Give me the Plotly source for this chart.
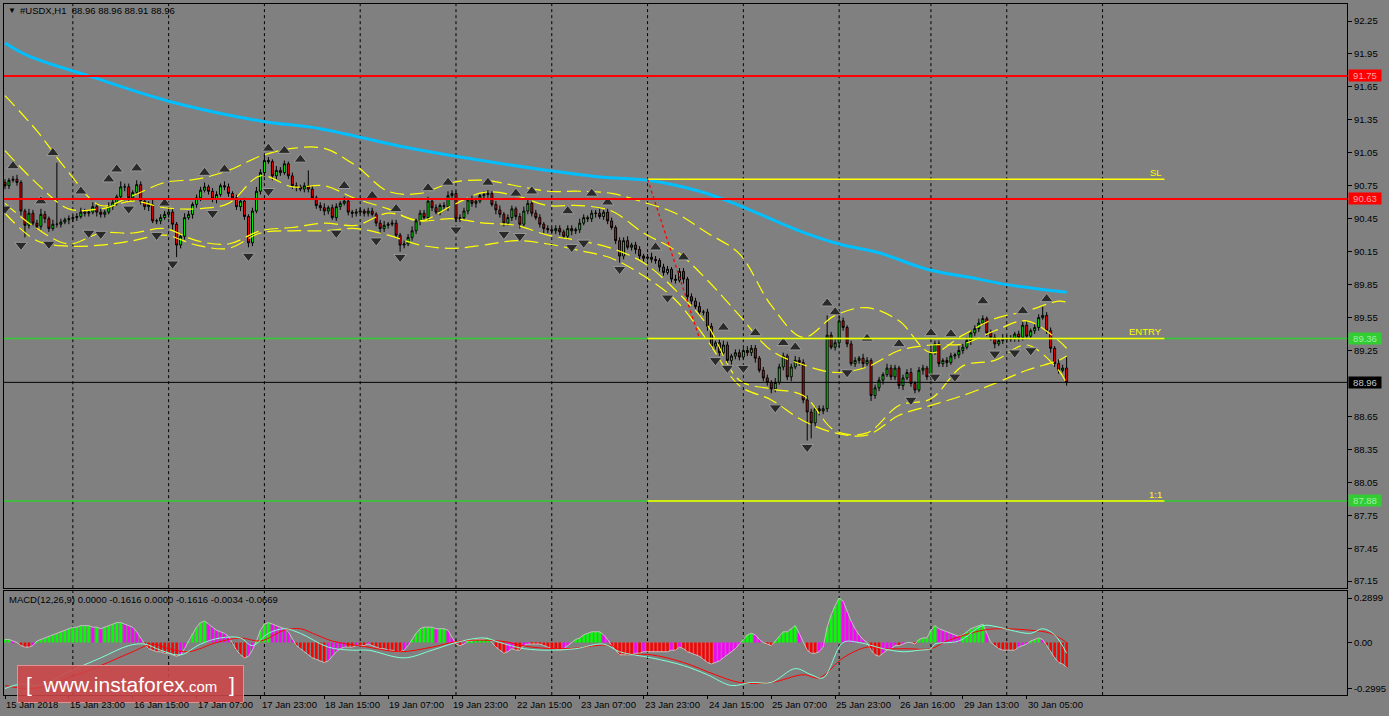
import plotly.graph_objects as go

# ---------------- DATA ----------------
closes = [
    90.75, 90.80, 90.81, 90.78, 90.52, 90.39, 90.50, 90.41, 90.38, 90.49, 90.45, 90.36, 90.40, 90.40, 90.42, 90.44, 90.45, 90.46, 90.47, 90.51,
    90.50, 90.51, 90.56, 90.51, 90.49, 90.51, 90.56, 90.60, 90.65, 90.74, 90.74, 90.64, 90.69, 90.76, 90.61, 90.56, 90.58, 90.43, 90.43, 90.46,
    90.49, 90.51, 90.40, 90.21, 90.29, 90.46, 90.49, 90.58, 90.64, 90.71, 90.74, 90.70, 90.63, 90.67, 90.75, 90.74, 90.68, 90.64, 90.56, 90.61,
    90.47, 90.23, 90.52, 90.70, 90.87, 90.98, 90.97, 90.84, 90.89, 90.87, 90.95, 90.84, 90.75, 90.74, 90.72, 90.75, 90.72, 90.64, 90.57, 90.55,
    90.52, 90.55, 90.46, 90.56, 90.59, 90.61, 90.51, 90.50, 90.51, 90.52, 90.50, 90.52, 90.49, 90.41, 90.36, 90.39, 90.40, 90.41, 90.30, 90.21,
    90.22, 90.28, 90.34, 90.43, 90.50, 90.46, 90.61, 90.55, 90.51, 90.57, 90.56, 90.66, 90.68, 90.45, 90.46, 90.52, 90.62, 90.59, 90.61, 90.66,
    90.67, 90.68, 90.58, 90.53, 90.49, 90.41, 90.46, 90.54, 90.47, 90.40, 90.52, 90.59, 90.50, 90.46, 90.40, 90.36, 90.35, 90.34, 90.36, 90.33,
    90.29, 90.36, 90.34, 90.35, 90.41, 90.46, 90.45, 90.50, 90.50, 90.47, 90.51, 90.43, 90.37, 90.25, 90.11, 90.25, 90.19, 90.21, 90.17, 90.11,
    90.09, 90.10, 90.08, 90.07, 90.01, 89.96, 89.99, 89.90, 89.89, 89.97, 89.90, 89.74, 89.70, 89.65, 89.60, 89.60, 89.47, 89.29, 89.32, 89.23,
    89.30, 89.16, 89.20, 89.23, 89.19, 89.25, 89.23, 89.27, 89.18, 89.07, 89.00, 88.96, 88.90, 88.96, 89.10, 89.20, 89.01, 89.10, 89.16, 89.14,
    88.80, 88.69, 88.59, 88.72, 88.70, 88.72, 89.39, 89.28, 89.32, 89.52, 89.46, 89.31, 89.13, 89.16, 89.18, 89.13, 89.16, 88.84, 88.91, 88.98,
    89.03, 89.09, 89.01, 89.09, 88.93, 89.00, 89.05, 88.95, 88.89, 89.07, 89.09, 89.01, 89.23, 89.31, 89.13, 89.16, 89.14, 89.20, 89.21, 89.25,
    89.28, 89.34, 89.41, 89.45, 89.50, 89.54, 89.41, 89.37, 89.31, 89.34, 89.36, 89.35, 89.36, 89.40, 89.37, 89.48, 89.38, 89.43, 89.46, 89.55,
    89.57, 89.43, 89.27, 89.13, 89.07, 89.09, 88.96]
first_open = 90.78

# upper / lower shadow lengths, in hundredths
upper_wick = [
    3, 2, 3, 4, 2, 2, 4, 3, 3, 5, 3, 2, 4, 56, 3, 2, 3, 2, 3, 4,
    3, 2, 4, 3, 3, 2, 4, 3, 2, 5, 3, 3, 2, 4, 3, 2, 3, 4, 2, 3,
    3, 2, 3, 2, 3, 4, 3, 2, 3, 3, 4, 2, 3, 3, 2, 4, 3, 2, 3, 2,
    3, 2, 3, 4, 3, 6, 3, 2, 4, 3, 3, 2, 3, 3, 2, 3, 14, 3, 2, 3,
    4, 2, 3, 3, 2, 4, 3, 2, 3, 3, 2, 3, 3, 2, 3, 4, 2, 3, 3, 2,
    3, 3, 4, 2, 3, 3, 4, 2, 3, 2, 3, 4, 3, 2, 3, 3, 2, 4, 3, 2,
    3, 3, 2, 3, 4, 2, 3, 3, 2, 3, 4, 3, 2, 3, 3, 2, 3, 2, 3, 3,
    2, 3, 3, 2, 4, 3, 2, 3, 3, 4, 2, 3, 3, 2, 3, 3, 4, 2, 3, 3,
    2, 3, 4, 3, 2, 3, 3, 2, 4, 3, 3, 2, 3, 3, 4, 2, 3, 3, 2, 3,
    4, 3, 2, 3, 3, 2, 4, 3, 3, 2, 3, 3, 2, 4, 3, 3, 2, 3, 4, 3,
    3, 4, 3, 2, 3, 3, 18, 3, 4, 5, 3, 2, 3, 3, 2, 4, 3, 2, 3, 3,
    2, 4, 3, 3, 2, 3, 3, 4, 2, 3, 3, 2, 4, 3, 3, 2, 3, 3, 2, 4,
    3, 3, 2, 3, 4, 3, 2, 3, 3, 2, 4, 3, 3, 2, 3, 3, 4, 2, 3, 3,
    8, 3, 3, 2, 4, 3, 10]
lower_wick = [
    3, 3, 2, 3, 4, 11, 3, 2, 3, 3, 4, 3, 2, 3, 3, 2, 4, 3, 3, 2,
    3, 3, 2, 4, 3, 3, 2, 3, 3, 2, 4, 3, 3, 2, 3, 3, 4, 2, 3, 3,
    2, 3, 5, 11, 3, 3, 2, 4, 3, 3, 2, 3, 3, 4, 2, 3, 3, 2, 3, 4,
    3, 4, 3, 2, 3, 3, 2, 4, 3, 3, 2, 3, 3, 4, 2, 3, 3, 2, 3, 3,
    4, 3, 2, 3, 3, 2, 3, 4, 3, 2, 3, 3, 2, 3, 4, 3, 3, 2, 3, 6,
    3, 2, 3, 3, 4, 2, 3, 3, 2, 3, 3, 4, 2, 3, 3, 2, 3, 3, 4, 2,
    3, 3, 2, 4, 3, 3, 2, 3, 3, 4, 2, 3, 3, 2, 3, 4, 3, 2, 3, 3,
    2, 3, 4, 3, 3, 2, 3, 3, 4, 2, 3, 3, 2, 3, 6, 3, 2, 3, 4, 3,
    3, 2, 3, 3, 4, 3, 2, 3, 3, 2, 4, 3, 3, 2, 3, 3, 4, 2, 3, 3,
    2, 3, 4, 3, 3, 2, 3, 3, 4, 2, 3, 3, 4, 3, 2, 3, 3, 4, 2, 3,
    3, 26, 14, 3, 4, 3, 3, 2, 3, 4, 3, 3, 2, 3, 3, 4, 2, 5, 3, 3,
    4, 2, 3, 3, 3, 4, 2, 3, 3, 2, 4, 3, 3, 2, 3, 3, 4, 2, 3, 3,
    3, 2, 4, 3, 3, 2, 3, 3, 4, 2, 3, 3, 2, 3, 4, 3, 3, 2, 3, 3,
    2, 3, 4, 3, 3, 2, 3]

# 200-period moving average (sampled)
ma_bars = [0, 6, 21, 41, 64, 79, 99, 116, 136, 149, 161, 174, 184, 199, 209, 219, 231, 244, 251, 259, 266]
ma_vals = [92.05, 91.93, 91.75, 91.52, 91.34, 91.27, 91.11, 91.00, 90.89, 90.83, 90.80,
           90.70, 90.57, 90.34, 90.22, 90.14, 89.99, 89.90, 89.85, 89.81, 89.78]

# band envelopes (sampled every 8 bars)
band_bars = [0, 8, 16, 24, 32, 40, 48, 56, 64, 72, 80, 88, 96, 104, 112, 120, 128, 136, 144, 152,
             160, 168, 176, 184, 192, 200, 208, 216, 224, 232, 240, 248, 256, 264, 266]
band_outer_up = [91.57, 91.25, 90.87, 90.57, 90.66, 90.78, 90.81, 90.89, 91.02, 91.09, 91.09, 90.93, 90.70, 90.68,
                 90.78, 90.80, 90.75, 90.70, 90.70, 90.68, 90.60, 90.50, 90.32, 90.13, 89.66, 89.37, 89.57, 89.64,
                 89.52, 89.23, 89.39, 89.54, 89.61, 89.70, 89.69]
band_inner_up = [91.07, 90.77, 90.54, 90.54, 90.61, 90.55, 90.54, 90.59, 90.84, 90.74, 90.75, 90.63, 90.54, 90.43,
                 90.57, 90.69, 90.66, 90.57, 90.57, 90.52, 90.32, 90.16, 89.89, 89.57, 89.25, 89.12, 89.05, 89.10,
                 89.25, 89.30, 89.31, 89.43, 89.52, 89.34, 89.27]
band_inner_low = [90.59, 90.36, 90.22, 90.32, 90.32, 90.36, 90.25, 90.22, 90.34, 90.37, 90.41, 90.39, 90.50, 90.43,
                  90.45, 90.41, 90.39, 90.30, 90.25, 90.18, 90.05, 89.80, 89.48, 88.98, 88.90, 88.84, 88.52, 88.50,
                  88.75, 88.81, 89.11, 89.16, 89.30, 89.07, 88.95]
band_outer_low = [90.50, 90.25, 90.20, 90.21, 90.25, 90.30, 90.21, 90.18, 90.32, 90.34, 90.34, 90.36, 90.30, 90.21,
                  90.18, 90.21, 90.25, 90.22, 90.16, 90.09, 89.93, 89.71, 89.34, 88.93, 88.80, 88.61, 88.50, 88.48,
                  88.66, 88.75, 88.84, 88.95, 89.07, 89.16, 89.20]

# fractals
frac_up_bars = [2, 12, 9, 19, 26, 28, 33, 40, 50, 55, 66, 70, 74, 85, 92, 98, 106, 111, 121, 128, 132, 141,
                147, 151, 163, 170, 180, 188, 195, 198, 206, 208, 216, 224, 232, 237, 245, 255, 261]
frac_up_vals = [90.93, 91.05, 90.61, 90.70, 90.81, 90.90, 90.91, 90.59, 90.87, 90.90, 91.09, 91.07, 90.99, 90.75,
                90.66, 90.54, 90.73, 90.78, 90.78, 90.68, 90.70, 90.52, 90.68, 90.60, 90.19, 90.10, 89.46, 89.41,
                89.32, 89.28, 89.68, 89.60, 89.36, 89.31, 89.41, 89.40, 89.70, 89.61, 89.72]
frac_dn_bars = [0, 4, 11, 21, 24, 31, 38, 42, 52, 61, 66, 83, 93, 99, 113, 125, 129, 142, 145, 154, 166, 178,
                181, 185, 193, 201, 211, 227, 233, 238, 248, 253, 257]
frac_dn_vals = [90.54, 90.21, 90.22, 90.32, 90.31, 90.54, 90.30, 90.04, 90.50, 90.11, 90.70, 90.32, 90.25, 90.10,
                90.35, 90.31, 90.29, 90.19, 90.23, 89.99, 89.73, 89.16, 89.09, 89.09, 88.73, 88.37, 89.05, 88.80,
                89.01, 89.01, 89.22, 89.23, 89.25]

# horizontal levels
level_red = [91.75, 90.63]
level_green = [89.36, 87.88]
last_price = 88.96
trade_start_bar, trade_end_bar = 161, 290.5
trade_levels = {"SL": 90.81, "ENTRY": 89.36, "1:1": 87.88}
trade_arrow_end = (174, 89.36)

# MACD histogram
macd_hist = [
    0.02, 0.02, 0.01, 0.00, -0.02, -0.03, -0.03, -0.02, 0.01, 0.02, 0.03, 0.04, 0.05, 0.06, 0.07, 0.08, 0.09, 0.10, 0.10, 0.11,
    0.11, 0.11, 0.10, 0.10, 0.09, 0.10, 0.11, 0.12, 0.13, 0.13, 0.12, 0.11, 0.10, 0.07, 0.03, -0.01, -0.04, -0.05, -0.06, -0.06,
    -0.07, -0.07, -0.08, -0.09, -0.08, -0.04, 0.01, 0.06, 0.10, 0.13, 0.14, 0.12, 0.10, 0.08, 0.07, 0.06, 0.04, -0.01, -0.05, -0.08,
    -0.10, -0.09, -0.05, 0.01, 0.08, 0.12, 0.13, 0.12, 0.11, 0.10, 0.09, 0.07, 0.02, -0.02, -0.04, -0.06, -0.08, -0.10, -0.11, -0.12,
    -0.13, -0.12, -0.09, -0.06, -0.04, -0.03, -0.03, -0.03, -0.02, -0.02, -0.02, -0.01, -0.02, -0.03, -0.04, -0.04, -0.05, -0.05, -0.06, -0.06,
    -0.05, -0.02, 0.02, 0.06, 0.09, 0.10, 0.10, 0.10, 0.09, 0.09, 0.09, 0.08, 0.03, -0.01, -0.02, -0.01, 0.01, 0.01, 0.02, 0.02,
    0.02, 0.03, 0.00, -0.03, -0.05, -0.07, -0.06, -0.04, -0.05, -0.05, -0.02, -0.01, -0.01, -0.01, -0.01, -0.02, -0.03, -0.04, -0.04, -0.05,
    -0.04, -0.02, 0.00, 0.02, 0.03, 0.05, 0.06, 0.07, 0.07, 0.07, 0.05, 0.02, -0.02, -0.05, -0.08, -0.08, -0.08, -0.08, -0.07, -0.07,
    -0.06, -0.06, -0.06, -0.06, -0.06, -0.06, -0.06, -0.05, -0.05, -0.03, -0.04, -0.06, -0.07, -0.08, -0.09, -0.11, -0.13, -0.14, -0.13, -0.12,
    -0.10, -0.08, -0.06, -0.04, -0.01, 0.02, 0.05, 0.06, 0.05, 0.02, 0.00, -0.01, -0.02, 0.01, 0.04, 0.07, 0.07, 0.09, 0.11, 0.06,
    0.00, -0.05, -0.07, -0.07, -0.06, -0.03, 0.10, 0.18, 0.24, 0.29, 0.27, 0.20, 0.14, 0.09, 0.05, 0.02, 0.00, -0.05, -0.08, -0.09,
    -0.07, -0.05, -0.04, -0.02, -0.02, -0.01, 0.00, 0.00, -0.01, 0.02, 0.03, 0.03, 0.08, 0.11, 0.09, 0.08, 0.07, 0.06, 0.05, 0.04,
    0.05, 0.07, 0.09, 0.10, 0.11, 0.12, 0.06, 0.00, -0.02, -0.04, -0.05, -0.05, -0.05, -0.05, -0.03, -0.02, -0.01, 0.01, 0.02, 0.03,
    0.02, -0.02, -0.06, -0.10, -0.13, -0.14, -0.1616]

macd_cyan_bars = [0, 4, 9, 16, 24, 31, 35, 39, 44, 49, 54, 59, 62, 66, 70, 74, 81, 87, 91, 100, 107, 113, 120, 124,
                  130, 137, 143, 150, 154, 162, 170, 176, 182, 187, 192, 198, 202, 205, 210, 214, 220, 225, 229, 232,
                  233, 239, 245, 249, 252, 257, 260, 263, 266]
macd_cyan_vals = [-0.30, -0.27, -0.28, -0.19, -0.10, -0.02, -0.01, -0.05, -0.08, -0.01, 0.03, 0.03, -0.02, 0.06, 0.09,
                  0.06, -0.03, -0.05, -0.05, -0.10, -0.05, 0.00, 0.03, 0.00, -0.04, -0.05, -0.04, -0.01, -0.06, -0.10,
                  -0.15, -0.21, -0.28, -0.26, -0.26, -0.17, -0.21, -0.23, 0.00, 0.00, -0.04, -0.06, -0.05, -0.04, -0.01,
                  0.01, 0.11, 0.10, 0.08, 0.06, 0.09, 0.05, -0.07]
macd_red_bars = [0, 7, 16, 24, 32, 37, 41, 46, 53, 59, 64, 70, 74, 78, 82, 91, 99, 107, 114, 124, 132, 141, 152,
                 155, 162, 170, 178, 184, 192, 200, 204, 210, 216, 220, 226, 232, 236, 245, 249, 257, 262, 266]
macd_red_vals = [-0.28, -0.30, -0.23, -0.15, -0.06, -0.01, -0.04, -0.06, 0.00, 0.03, 0.01, 0.08, 0.09, 0.05, 0.01,
                 -0.03, -0.06, -0.03, 0.01, 0.01, -0.03, -0.04, -0.02, -0.07, -0.08, -0.13, -0.21, -0.26, -0.26, -0.21,
                 -0.23, -0.10, -0.03, -0.04, -0.04, -0.04, 0.01, 0.08, 0.09, 0.08, 0.06, 0.00]

price_ticks = [92.25, 91.95, 91.65, 91.35, 91.05, 90.75, 90.45, 90.15, 89.85, 89.55, 89.25,
               88.65, 88.35, 88.05, 87.75, 87.45, 87.15]
macd_ticks = [0.2899, 0.0, -0.2995]
macd_tick_text = ["0.2899", "0.00", "-0.2995"]

date_label_bars = [0, 16, 32, 48, 64, 80, 96, 112, 128, 144, 160, 176, 192, 208, 224, 240, 256]
date_labels = ["15 Jan 2018", "15 Jan 23:00", "16 Jan 15:00", "17 Jan 07:00", "17 Jan 23:00", "18 Jan 15:00",
               "19 Jan 07:00", "19 Jan 23:00", "22 Jan 15:00", "23 Jan 07:00", "23 Jan 23:00", "24 Jan 15:00",
               "25 Jan 07:00", "25 Jan 23:00", "26 Jan 16:00", "29 Jan 13:00", "30 Jan 05:00"]
grid_bars = [17, 41, 65, 89, 113, 137, 161, 185, 209, 232, 251, 275]

# ---------------- BUILD ----------------
n = len(closes)
bars = list(range(n))
opens = [first_open] + closes[:-1]
highs = [round(max(o, c) + u / 100, 2) for o, c, u in zip(opens, closes, upper_wick)]
lows = [round(min(o, c) - d / 100, 2) for o, c, d in zip(opens, closes, lower_wick)]

FONT = "Liberation Sans"
GRAY = "#808080"
fig = go.Figure()

fig.add_trace(go.Candlestick(
    x=bars, open=opens, high=highs, low=lows, close=closes,
    increasing=dict(line=dict(color="black", width=1), fillcolor="#00FF00"),
    decreasing=dict(line=dict(color="black", width=1), fillcolor="#FF0000"),
    whiskerwidth=0, xaxis="x", yaxis="y", hoverinfo="skip"))

for band in (band_outer_up, band_inner_up, band_inner_low, band_outer_low):
    fig.add_trace(go.Scatter(x=band_bars, y=band, mode="lines",
                             line=dict(color="#FFFF00", width=1.2, dash="14px,6px", shape="spline"),
                             xaxis="x", yaxis="y", hoverinfo="skip"))

fig.add_trace(go.Scatter(x=ma_bars, y=ma_vals, mode="lines",
                         line=dict(color="#00BFFF", width=3, shape="spline"),
                         xaxis="x", yaxis="y", hoverinfo="skip"))

fig.add_trace(go.Scatter(x=frac_up_bars, y=frac_up_vals, mode="markers",
                         marker=dict(symbol="triangle-up", size=11, color="#2a2a2a",
                                     line=dict(color="#9a9a9a", width=1)),
                         xaxis="x", yaxis="y", hoverinfo="skip"))
fig.add_trace(go.Scatter(x=frac_dn_bars, y=frac_dn_vals, mode="markers",
                         marker=dict(symbol="triangle-down", size=11, color="#2a2a2a",
                                     line=dict(color="#9a9a9a", width=1)),
                         xaxis="x", yaxis="y", hoverinfo="skip"))

# MACD
colors = []
prev = 0.0
for h in macd_hist:
    if h >= 0:
        colors.append("#00FF00" if h >= prev else "#FF00FF")
    else:
        colors.append("#FF0000" if h <= prev else "#FF00FF")
    prev = h
fig.add_trace(go.Bar(x=bars, y=macd_hist, marker=dict(color=colors, line=dict(width=0)),
                     xaxis="x2", yaxis="y2", hoverinfo="skip"))
fig.add_trace(go.Scatter(x=bars, y=macd_hist, mode="lines", line=dict(color="#C0C0C0", width=1),
                         xaxis="x2", yaxis="y2", hoverinfo="skip"))
fig.add_trace(go.Scatter(x=macd_red_bars, y=macd_red_vals, mode="lines",
                         line=dict(color="#FF0000", width=1, shape="spline"),
                         xaxis="x2", yaxis="y2", hoverinfo="skip"))
fig.add_trace(go.Scatter(x=macd_cyan_bars, y=macd_cyan_vals, mode="lines",
                         line=dict(color="#7FFFD4", width=1, shape="spline"),
                         xaxis="x2", yaxis="y2", hoverinfo="skip"))

shapes = []
for gb in grid_bars:
    for yr in ("y domain", "y2 domain"):
        shapes.append(dict(type="line", xref="x", yref=yr, x0=gb, x1=gb, y0=0, y1=1,
                           line=dict(color="black", width=1, dash="3px,3px"), layer="below"))
for lv in level_red:
    shapes.append(dict(type="line", xref="paper", yref="y", x0=0, x1=1, y0=lv, y1=lv,
                       line=dict(color="#FF0000", width=2)))
for lv in level_green:
    shapes.append(dict(type="line", xref="paper", yref="y", x0=0, x1=1, y0=lv, y1=lv,
                       line=dict(color="#32CD32", width=1.5)))
shapes.append(dict(type="line", xref="paper", yref="y", x0=0, x1=1, y0=last_price, y1=last_price,
                   line=dict(color="black", width=1)))
for name, lv in trade_levels.items():
    shapes.append(dict(type="line", xref="x", yref="y", x0=trade_start_bar, x1=trade_end_bar, y0=lv, y1=lv,
                       line=dict(color="#FFFF00", width=1.5)))
shapes.append(dict(type="line", xref="x", yref="y", x0=trade_start_bar, y0=trade_levels["SL"],
                   x1=trade_arrow_end[0], y1=trade_arrow_end[1],
                   line=dict(color="#FF0000", width=1.3, dash="3px,3px")))

# pixel -> paper helpers (plot area: x 3..1349, y 3..695)
def px(xp):
    return (xp - 3) / 1346.0

def py(yp):
    return 1 - (yp - 3) / 692.0

ann = []
ann.append(dict(xref="paper", yref="paper", x=px(130), y=py(684),
                text="[  www.instaforex<span style='font-size:15px'>.com</span>  ]",
                showarrow=False, xanchor="center", yanchor="middle",
                width=223, height=34, bgcolor="rgba(205,70,72,0.88)",
                bordercolor="rgba(235,150,150,0.9)", borderwidth=1,
                font=dict(family=FONT, size=21, color="white")))
ann.append(dict(xref="paper", yref="paper", x=px(5), y=py(10), text="▼", showarrow=False,
                xanchor="left", yanchor="middle", font=dict(family=FONT, size=8, color="black")))
ann.append(dict(xref="paper", yref="paper", x=px(17), y=py(10), text="#USDX,H1  88.96 88.96 88.91 88.96",
                showarrow=False, xanchor="left", yanchor="middle", font=dict(family=FONT, size=9.5, color="black")))
ann.append(dict(xref="paper", yref="paper", x=px(6), y=py(599),
                text="MACD(12,26,9) 0.0000 -0.1616 0.0000 -0.1616 -0.0034 -0.0669",
                showarrow=False, xanchor="left", yanchor="middle", font=dict(family=FONT, size=9.5, color="black")))
for name, lv in trade_levels.items():
    ann.append(dict(xref="x", yref="y", x=trade_end_bar, y=lv, text=name, showarrow=False,
                    xanchor="right", yanchor="bottom", yshift=-1,
                    font=dict(family=FONT, size=9.5, color="#FFFF00")))
box_specs = [(level_red[0], "#FF0000", "#FFA0A0"), (level_red[1], "#FF0000", "#FFA0A0"),
             (level_green[0], "#32CD32", "#A0F0A0"), (level_green[1], "#32CD32", "#A0F0A0"),
             (last_price, "#000000", "#C8C8C8")]
for lv, bg, fc in box_specs:
    ann.append(dict(xref="paper", yref="y", x=1, y=lv, text=f"{lv:.2f}", showarrow=False,
                    xanchor="left", yanchor="middle", xshift=1, bgcolor=bg, borderpad=0,
                    width=32, height=11, font=dict(family=FONT, size=9.5, color=fc)))
for b, t in zip(date_label_bars, date_labels):
    ann.append(dict(xref="x2", yref="paper", x=b - 0.2, y=0, text=t, showarrow=False,
                    xanchor="left", yanchor="top", yshift=-2,
                    font=dict(family=FONT, size=9.5, color="black")))

axis_common = dict(showgrid=False, zeroline=False, showline=True, mirror=True,
                   linecolor="black", linewidth=1, fixedrange=True)
fig.update_layout(
    width=1389, height=716,
    margin=dict(l=3, r=40, t=3, b=21),
    paper_bgcolor=GRAY, plot_bgcolor=GRAY,
    showlegend=False, bargap=0.35,
    shapes=shapes, annotations=ann,
    xaxis=dict(domain=[0, 1], range=[-0.25, 336.25], anchor="y", showticklabels=False,
               rangeslider=dict(visible=False), **axis_common),
    yaxis=dict(domain=[0.1546, 1], range=[87.086, 92.405], side="right", anchor="x",
               tickvals=price_ticks, ticktext=[f"{t:.2f}" for t in price_ticks],
               ticks="outside", ticklen=4, tickcolor="black",
               tickfont=dict(family=FONT, size=9.5, color="black"), **axis_common),
    xaxis2=dict(domain=[0, 1], range=[-0.25, 336.25], anchor="y2", showticklabels=False,
                tickvals=date_label_bars, ticks="outside", ticklen=3, tickcolor="black", **axis_common),
    yaxis2=dict(domain=[0, 0.1503], range=[-0.342, 0.335], side="right", anchor="x2",
                tickvals=macd_ticks, ticktext=macd_tick_text,
                ticks="outside", ticklen=4, tickcolor="black",
                tickfont=dict(family=FONT, size=9.5, color="black"), **axis_common),
)

fig.write_html("out.html", config={"displayModeBar": False},
               post_script="document.body.style.margin='0px';document.body.style.overflow='hidden';"
                           "document.body.style.background='#808080';")
